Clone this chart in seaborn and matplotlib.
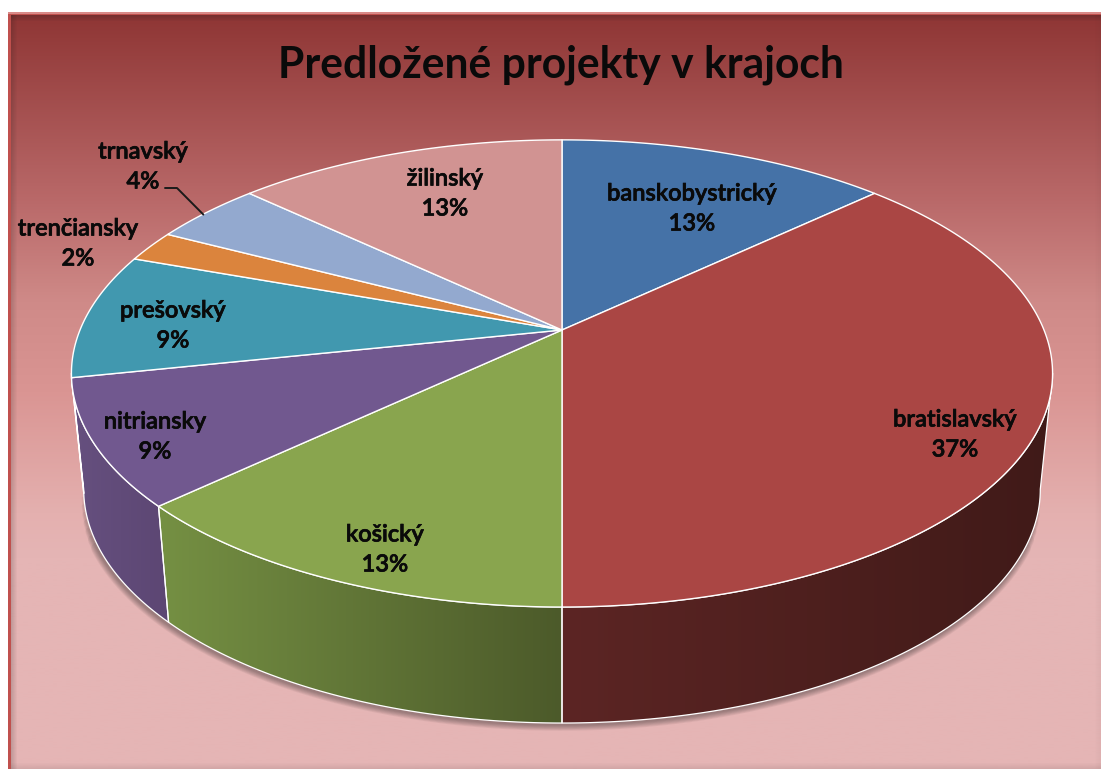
import numpy as np
import matplotlib
matplotlib.use("Agg")
import matplotlib.pyplot as plt
import matplotlib.patheffects as pe
from matplotlib.colors import LinearSegmentedColormap
from matplotlib.patches import Polygon, Rectangle
import seaborn as sns

title = "Predložené projekty v krajoch"
regions = ["banskobystrický", "bratislavský", "košický", "nitriansky",
           "prešovský", "trenčiansky", "trnavský", "žilinský"]
counts = [6, 17, 6, 4, 4, 1, 2, 6]
top_colors = ["#4572a7", "#aa4644", "#89a54e", "#71588f",
              "#4198af", "#db843d", "#93a9cf", "#d19392"]
wall_ramps = {
    "bratislavský": ("#5c2524", "#401a18"),
    "košický": ("#759043", "#4c5a2a"),
    "nitriansky": ("#66507f", "#5c4673"),
    "prešovský": ("#66507f", "#66507f"),
}
label_x = [692, 955, 385, 155, 173, 78, 143, 445]
label_y = [193, 419, 534, 421, 310, 228, 151, 178]

W, H = 1101, 769
cx, cy = 562, 330
R, S, k = 482, 225.5, 0.186
drop, shrink = 116, 0.975

sns.set_theme(style="white")
plt.rcParams["font.family"] = ["Lato", "DejaVu Sans"]
palette = sns.color_palette(top_colors)


def rim(theta):
    u, v = np.sin(theta), -np.cos(theta)
    w = 1 - k * v
    return cx + R * u / w, cy + S * v / w


def lower(x, y):
    return cx + shrink * (x - cx), y + drop


fig = plt.figure(figsize=(W / 100, H / 100), dpi=100)
ax = fig.add_axes([0, 0, 1, 1])

# frame and background gradient
ax.add_patch(Rectangle((8, 12), W - 8, H - 12, fc="#c0504d", ec="none", zorder=0))
ax.add_patch(Rectangle((8, 12), W - 8, 2, fc="#d98a88", ec="none", zorder=0.1))
bg = LinearSegmentedColormap.from_list(
    "bg", [(0, "#8f3635"), (0.25, "#ba6a6a"), (0.38, "#cf8a88"), (0.5, "#da9593"),
           (0.66, "#e4b0af"), (0.72, "#e5b5b5"), (1, "#e5b5b5")])
ax.imshow(np.linspace(0, 1, 256)[:, None], cmap=bg, extent=(11, W, H, 15),
          aspect="auto", zorder=0.2)
# inner shadow at the frame edges
for i in range(6):
    a = 0.22 * (1 - i / 6)
    ax.add_patch(Rectangle((11, 15 + i), W, 1, fc="k", alpha=a, ec="none", zorder=0.3))
    ax.add_patch(Rectangle((11 + i, 15), 1, H - 15, fc="k", alpha=a * 0.8, ec="none", zorder=0.3))
    ax.add_patch(Rectangle((11, H - 1 - i), W, 1, fc="k", alpha=a * 0.4, ec="none", zorder=0.3))
    ax.add_patch(Rectangle((W - 1 - i, 15), 1, H, fc="k", alpha=a * 0.15, ec="none", zorder=0.3))

edges = np.cumsum([0] + counts) / sum(counts) * 2 * np.pi

# visible stretch of the side wall runs between the widest rim points
fine = np.linspace(0, 2 * np.pi, 2000)
fx, _ = rim(fine)
t_right, t_left = fine[np.argmax(fx)], fine[np.argmin(fx)]

# soft shadow under the wall, wide strokes cover less of the arc so the ends taper
for i in range(7):
    trim = (6 - i) * 0.035 + 0.03
    arc = np.linspace(t_right + trim, t_left - trim, 400)
    sx, sy = lower(*rim(arc))
    ax.plot(sx - 1, sy + 1.5, color="k", lw=9 - 1.2 * i, alpha=0.06,
            solid_capstyle="round", zorder=1)

for name, a, b in zip(regions, edges[:-1], edges[1:]):
    lo, hi = max(a, t_right), min(b, t_left)
    if lo < hi:
        t = np.linspace(lo, hi, 200)
        x, y = rim(t)
        xb, yb = lower(x, y)
        pts = np.r_[np.c_[x, y], np.c_[xb, yb][::-1]]
        poly = Polygon(pts, closed=True, fc="none", ec="white", lw=0.9, zorder=3)
        ax.add_patch(poly)
        cm = LinearSegmentedColormap.from_list(name, wall_ramps[name])
        im = ax.imshow(np.linspace(0, 1, 256)[None, :], cmap=cm,
                       extent=(pts[:, 0].min(), pts[:, 0].max(), pts[:, 1].max(), pts[:, 1].min()),
                       aspect="auto", zorder=2)
        im.set_clip_path(poly)

# top faces
for a, b, col in zip(edges[:-1], edges[1:], palette):
    x, y = rim(np.linspace(a, b, 200))
    pts = np.r_[[[cx, cy]], np.c_[x, y]]
    ax.add_patch(Polygon(pts, closed=True, fc=col, ec="white", lw=1.0,
                         joinstyle="round", zorder=4))

# labels, thin stroke because the original text is a bit heavier than regular
heavy = [pe.withStroke(linewidth=0.5, foreground="#0a0a0a")]
for name, n, lx, ly in zip(regions, counts, label_x, label_y):
    ax.text(lx, ly, name, ha="center", va="center", fontsize=17,
            fontweight="semibold", color="#0a0a0a", zorder=6, path_effects=heavy)
    ax.text(lx, ly + 30, f"{100 * n / sum(counts):.0f}%", ha="center", va="center",
            fontsize=17, fontweight="semibold", color="#0a0a0a", zorder=6, path_effects=heavy)

# leader line of the trnavský label
i = regions.index("trnavský")
ex, ey = rim((edges[i] + edges[i + 1]) / 2)
ax.plot([165, 177, ex - 3], [188, 188, ey + 2], color="k", lw=1.4, zorder=5)

ax.text(561, 65, title, ha="center", va="center", fontsize=30.7,
        fontweight="bold", color="#0a0a0a", zorder=6)

ax.set_xlim(0, W)
ax.set_ylim(H, 0)
ax.axis("off")
fig.savefig("out.png", dpi=100, facecolor="white")
